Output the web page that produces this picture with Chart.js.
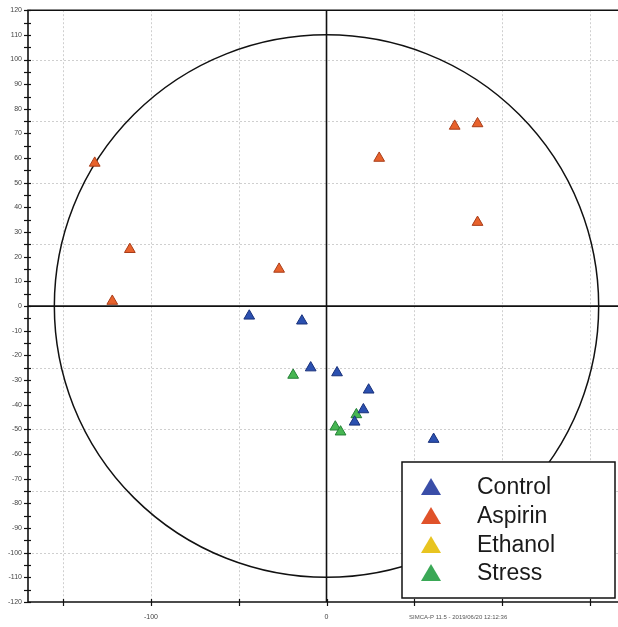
<!DOCTYPE html>
<html>
<head>
<meta charset="utf-8">
<script src="https://cdn.jsdelivr.net/npm/chart.js@4.4.1/dist/chart.umd.min.js"></script>
<style>
  html, body { margin: 0; padding: 0; background: #fff; overflow: hidden; }
  #wrap { position: absolute; left: 0; top: 0; width: 618px; height: 627px; }
</style>
</head>
<body>
<div id="wrap"><canvas id="c"></canvas></div>
<script>
// ---- Data ----
const seriesNames = ['Control', 'Aspirin', 'Ethanol', 'Stress'];
const controlPts = [[-44,-4],[-14,-6],[-9,-25],[6,-27],[24,-34],[21,-42],[16,-47],[61,-54]];
const aspirinPts = [[-132,58],[-112,23],[-122,2],[-27,15],[30,60],[73,73],[86,74],[86,34]];
const ethanolPts = [];
const stressPts  = [[-19,-28],[17,-44],[5,-49],[8,-51]];
const xTickLabels = [-100, 0];
const yTickStep = 10;
const ellipseRadii = [155, 110]; // Hotelling T2 ellipse semi-axes (t1, t2)

const fills   = ['#2b50b0', '#e8622c', '#e8c622', '#46b652'];
const borders = ['#18307a', '#a83c18', '#a88a10', '#238035'];
const legendFills = ['#3a4ea8', '#e0522a', '#e8c420', '#3aa856'];

const allPts = [controlPts, aspirinPts, ethanolPts, stressPts];
const datasets = seriesNames.map((n, i) => ({
  label: n,
  data: allPts[i].map(p => ({x: p[0], y: p[1]})),
  pointStyle: 'triangle',
  pointRadius: 6.2,
  pointBackgroundColor: fills[i],
  pointBorderColor: borders[i],
  pointBorderWidth: 1,
  showLine: false
}));

const decor = {
  id: 'decor',
  beforeDatasetsDraw(chart) {
    const {ctx, chartArea: a, scales: {x, y}} = chart;
    ctx.save();
    // dotted grid
    ctx.strokeStyle = '#cfcfcf';
    ctx.lineWidth = 1;
    ctx.setLineDash([2, 2]);
    for (let v = -150; v <= 150; v += 50) {
      if (v === 0) continue;
      const px = Math.round(x.getPixelForValue(v)) + 0.5;
      ctx.beginPath(); ctx.moveTo(px, a.top); ctx.lineTo(px, a.bottom); ctx.stroke();
    }
    for (let v = -100; v <= 100; v += 25) {
      if (v === 0) continue;
      const py = Math.round(y.getPixelForValue(v)) + 0.5;
      ctx.beginPath(); ctx.moveTo(a.left, py); ctx.lineTo(a.right, py); ctx.stroke();
    }
    ctx.setLineDash([]);
    // zero lines
    ctx.strokeStyle = '#111';
    ctx.lineWidth = 1.6;
    const x0 = x.getPixelForValue(0), y0 = y.getPixelForValue(0);
    ctx.beginPath(); ctx.moveTo(x0, a.top); ctx.lineTo(x0, a.bottom); ctx.stroke();
    ctx.beginPath(); ctx.moveTo(a.left, y0); ctx.lineTo(a.right, y0); ctx.stroke();
    // ellipse
    const rx = x.getPixelForValue(ellipseRadii[0]) - x0;
    const ry = y0 - y.getPixelForValue(ellipseRadii[1]);
    ctx.lineWidth = 1.5;
    ctx.beginPath(); ctx.ellipse(x0, y0, rx, ry, 0, 0, Math.PI * 2); ctx.stroke();
    // frame (right side lies beyond the visible window)
    ctx.lineWidth = 1.6;
    ctx.beginPath();
    ctx.moveTo(a.right, a.top); ctx.lineTo(a.left, a.top); ctx.lineTo(a.left, a.bottom); ctx.lineTo(a.right, a.bottom);
    ctx.stroke();
    // tick marks (crossing)
    ctx.lineWidth = 1.2;
    for (let v = -120; v <= 120; v += 5) {
      const py = Math.round(y.getPixelForValue(v)) + 0.5;
      ctx.beginPath(); ctx.moveTo(a.left - 4, py); ctx.lineTo(a.left + 3, py); ctx.stroke();
    }
    for (let v = -150; v <= 150; v += 50) {
      const px = Math.round(x.getPixelForValue(v)) + 0.5;
      ctx.beginPath(); ctx.moveTo(px, a.bottom - 3); ctx.lineTo(px, a.bottom + 4); ctx.stroke();
    }
    ctx.restore();
  },
  afterDraw(chart) {
    const {ctx} = chart;
    ctx.save();
    // legend box
    const L = 402, T = 462, R = 615, B = 598;
    ctx.fillStyle = '#fff';
    ctx.fillRect(L, T, R - L, B - T);
    ctx.strokeStyle = '#111';
    ctx.lineWidth = 1.5;
    ctx.strokeRect(L, T, R - L, B - T);
    const rows = [487, 516, 545, 573];
    ctx.font = '23px "Liberation Sans", Arial, sans-serif';
    ctx.textBaseline = 'middle';
    seriesNames.forEach((n, i) => {
      const cy = rows[i], cx = 431;
      ctx.fillStyle = legendFills[i];
      ctx.beginPath();
      ctx.moveTo(cx, cy - 9); ctx.lineTo(cx + 10, cy + 8); ctx.lineTo(cx - 10, cy + 8); ctx.closePath();
      ctx.fill();
      ctx.fillStyle = '#1a1a1a';
      ctx.fillText(n, 477, cy + 1);
    });
    // software stamp
    ctx.font = '6px "Liberation Sans", Arial, sans-serif';
    ctx.fillStyle = '#555';
    ctx.textBaseline = 'middle';
    ctx.fillText('SIMCA-P 11.5 - 2019/06/20 12:12:36', 409, 617);
    ctx.restore();
  }
};

new Chart(document.getElementById('c'), {
  type: 'scatter',
  data: { datasets },
  options: {
    responsive: true,
    maintainAspectRatio: false,
    animation: false,
    devicePixelRatio: 1,
    layout: { autoPadding: false, padding: { top: 9, left: 0, right: 0, bottom: 0 } },
    plugins: { legend: { display: false }, tooltip: { enabled: false } },
    scales: {
      x: {
        type: 'linear', min: -170, max: 166,
        grid: { display: false, drawTicks: false }, border: { display: false },
        ticks: {
          stepSize: 50, includeBounds: false, autoSkip: false, maxRotation: 0, padding: 11,
          color: '#444', font: { size: 7, family: '"Liberation Sans", Arial, sans-serif' },
          callback: v => xTickLabels.includes(v) ? String(v) : ''
        },
        afterFit: s => { s.height = 25; }
      },
      y: {
        type: 'linear', min: -120, max: 120,
        grid: { display: false, drawTicks: false }, border: { display: false },
        ticks: {
          stepSize: yTickStep, autoSkip: false, padding: 6,
          color: '#444', font: { size: 7, family: '"Liberation Sans", Arial, sans-serif' },
          callback: v => String(v)
        },
        afterFit: s => { s.width = 28; }
      }
    }
  },
  plugins: [decor]
});
</script>
</body>
</html>
